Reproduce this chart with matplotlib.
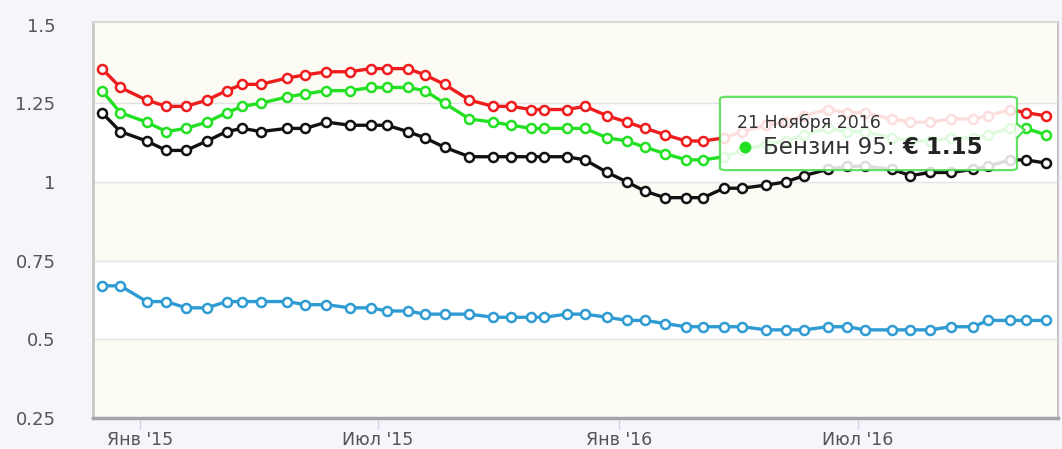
import matplotlib
matplotlib.use("Agg")
import matplotlib.pyplot as plt
import pandas as pd
from matplotlib.patches import FancyBboxPatch, Polygon

# dates of the price points
dates = ["2014-12-03", "2014-12-17", "2015-01-06", "2015-01-21", "2015-02-05", "2015-02-21",
         "2015-03-08", "2015-03-20", "2015-04-03", "2015-04-23", "2015-05-07", "2015-05-23",
         "2015-06-10", "2015-06-26", "2015-07-08", "2015-07-24", "2015-08-06", "2015-08-21",
         "2015-09-09", "2015-09-27", "2015-10-11", "2015-10-26", "2015-11-05", "2015-11-22",
         "2015-12-06", "2015-12-23", "2016-01-07", "2016-01-21", "2016-02-05", "2016-02-21",
         "2016-03-05", "2016-03-21", "2016-04-04", "2016-04-22", "2016-05-07", "2016-05-21",
         "2016-06-08", "2016-06-23", "2016-07-06", "2016-07-27", "2016-08-10", "2016-08-25",
         "2016-09-10", "2016-09-27", "2016-10-08", "2016-10-25", "2016-11-06", "2016-11-21"]

benzin98 = [1.36, 1.30, 1.26, 1.24, 1.24, 1.26, 1.29, 1.31, 1.31, 1.33, 1.34, 1.35, 1.35, 1.36, 1.36, 1.36,
            1.34, 1.31, 1.26, 1.24, 1.24, 1.23, 1.23, 1.23, 1.24, 1.21, 1.19, 1.17, 1.15, 1.13, 1.13,
            1.14, 1.16, 1.18, 1.19, 1.21, 1.23, 1.22, 1.22, 1.20, 1.19, 1.19, 1.20, 1.20, 1.21, 1.23, 1.22, 1.21]
benzin95 = [1.29, 1.22, 1.19, 1.16, 1.17, 1.19, 1.22, 1.24, 1.25, 1.27, 1.28, 1.29, 1.29, 1.30, 1.30, 1.30,
            1.29, 1.25, 1.20, 1.19, 1.18, 1.17, 1.17, 1.17, 1.17, 1.14, 1.13, 1.11, 1.09, 1.07, 1.07,
            1.08, 1.10, 1.12, 1.13, 1.15, 1.17, 1.16, 1.16, 1.14, 1.13, 1.13, 1.14, 1.14, 1.15, 1.17, 1.17, 1.15]
diesel = [1.22, 1.16, 1.13, 1.10, 1.10, 1.13, 1.16, 1.17, 1.16, 1.17, 1.17, 1.19, 1.18, 1.18, 1.18, 1.16,
          1.14, 1.11, 1.08, 1.08, 1.08, 1.08, 1.08, 1.08, 1.07, 1.03, 1.00, 0.97, 0.95, 0.95, 0.95,
          0.98, 0.98, 0.99, 1.00, 1.02, 1.04, 1.05, 1.05, 1.04, 1.02, 1.03, 1.03, 1.04, 1.05, 1.07, 1.07, 1.06]
gas = [0.67, 0.67, 0.62, 0.62, 0.60, 0.60, 0.62, 0.62, 0.62, 0.62, 0.61, 0.61, 0.60, 0.60, 0.59, 0.59,
       0.58, 0.58, 0.58, 0.57, 0.57, 0.57, 0.57, 0.58, 0.58, 0.57, 0.56, 0.56, 0.55, 0.54, 0.54,
       0.54, 0.54, 0.53, 0.53, 0.53, 0.54, 0.54, 0.53, 0.53, 0.53, 0.53, 0.54, 0.54, 0.56, 0.56, 0.56, 0.56]

tick_dates = ["2015-01-01", "2015-07-01", "2016-01-01", "2016-07-01"]
tick_labels = ["Янв '15", "Июл '15", "Янв '16", "Июл '16"]
y_ticks = [0.25, 0.5, 0.75, 1.0, 1.25, 1.5]
y_labels = ["0.25", "0.5", "0.75", "1", "1.25", "1.5"]

x = pd.to_datetime(dates)

fig = plt.figure(figsize=(10.62, 4.49), dpi=100, facecolor="#f5f5fa")
ax = fig.add_axes([0.0876, 0.069, 0.9086, 0.882])
ax.set_facecolor("#fdfcf4")

# alternate white bands + grid
for lo in [0.5, 1.0]:
    ax.axhspan(lo, lo + 0.25, color="white", zorder=0)
for yv in [0.5, 0.75, 1.0, 1.25]:
    ax.axhline(yv, color="#e2e2e2", lw=1, zorder=1)

style = dict(marker="o", markersize=6.5, markerfacecolor="white", markeredgewidth=1.8,
             lw=2.4, zorder=3, solid_joinstyle="round")
ax.plot(x, benzin98, color="#ee1c1c", **style)
ax.plot(x, benzin95, color="#22e022", **style)
ax.plot(x, diesel, color="#111111", **style)
ax.plot(x, gas, color="#2e9bd2", **style)

day0 = pd.Timestamp("2015-01-01")
ax.set_xlim(day0 + pd.Timedelta(days=-35.8), day0 + pd.Timedelta(days=699.4))
ax.set_ylim(0.25, 1.508)

ax.set_xticks(pd.to_datetime(tick_dates))
ax.set_xticklabels(tick_labels)
ax.set_yticks(y_ticks)
ax.set_yticklabels(y_labels)
ax.tick_params(axis="x", direction="out", length=8, width=1, color="#ccd6eb",
               labelsize=12.5, labelcolor="#555555", pad=1)
ax.tick_params(axis="y", length=0, labelsize=13, labelcolor="#555555", pad=27)

ax.spines["left"].set_color("#c8c8c8")
ax.spines["left"].set_linewidth(2)
ax.spines["bottom"].set_color("#a4a4ac")
ax.spines["bottom"].set_linewidth(2.5)
ax.spines["top"].set_color("#d8d8d8")
ax.spines["top"].set_linewidth(1.5)
ax.spines["right"].set_color("#c8c8c8")
ax.spines["right"].set_linewidth(1.5)

# tooltip
box = FancyBboxPatch((0.6497, 0.626), 0.3078, 0.185, boxstyle="round,pad=0,rounding_size=0.006",
                     transform=ax.transAxes, facecolor="white", alpha=0.86,
                     edgecolor="#4cdd4c", lw=1.6, zorder=10)
ax.add_patch(box)
notch = Polygon([(0.9565, 0.745), (0.9655, 0.727), (0.9565, 0.705)], closed=False,
                transform=ax.transAxes, facecolor="#fbfbfb", edgecolor="#4cdd4c",
                lw=1.6, zorder=11)
ax.add_patch(notch)
ax.text(0.6674, 0.745, "21 Ноября 2016", transform=ax.transAxes, fontsize=12.5,
        color="#333333", va="center", ha="left", zorder=12)
ax.plot([0.6756], [0.684], "o", transform=ax.transAxes, color="#22e022",
        markersize=7.5, zorder=12)
t1 = ax.text(0.694, 0.684, "Бензин 95:", transform=ax.transAxes, fontsize=16.5,
             color="#333333", va="center", ha="left", zorder=12)
ax.annotate("€ 1.15", xy=(1, 0), xycoords=t1, xytext=(6, 0), textcoords="offset points",
            fontsize=16.5, fontweight="bold", color="#222222", va="bottom", ha="left", zorder=12)

fig.savefig("out.png", dpi=100, facecolor=fig.get_facecolor())
